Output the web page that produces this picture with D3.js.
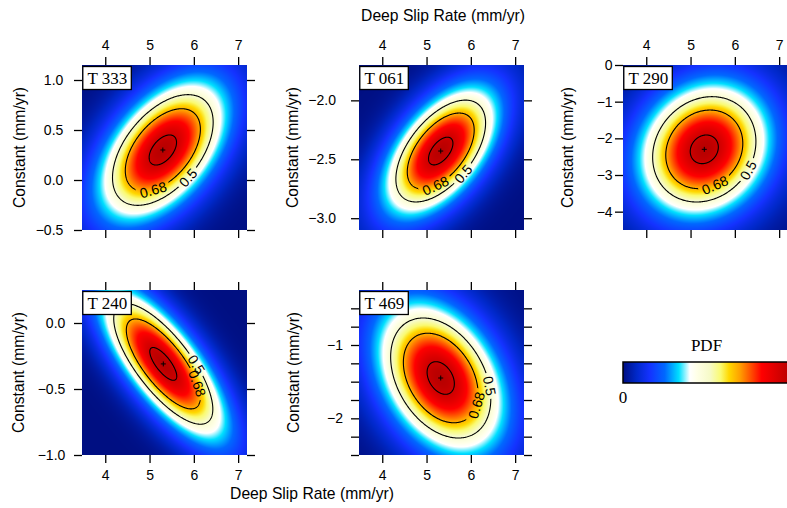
<!DOCTYPE html>
<html><head><meta charset="utf-8">
<script src="https://cdn.jsdelivr.net/npm/d3@7"></script>
<style>body{margin:0;background:#fff}svg{display:block}</style>
</head><body><svg id="c" width="787" height="508"></svg>
<script>
// ---------- data ----------
const panelNames = ["T 333", "T 061", "T 290", "T 240", "T 469"];
const meanX  = [5.30, 5.32, 5.31, 5.31, 5.32];
const meanY  = [0.30, -2.43, -2.30, -0.31, -1.45];
const sigmaX = [0.965, 0.86, 0.99, 0.95, 0.96];
const sigmaY = [0.47, 0.367, 1.22, 0.388, 0.695];
const rho    = [0.50, 0.55, 0.15, -0.75, -0.35];
const xDomain = [3.475, 7.2];
const yDomains = [[-0.5, 1.15], [-3.1, -1.7], [-4.5, 0], [-1.0, 0.25], [-2.5, -0.25]];
const xTicks = [4, 5, 6, 7];
const yTicks = [
  [-0.5, 0.0, 0.5, 1.0],
  [-3.0, -2.5, -2.0],
  [-4, -3, -2, -1, 0],
  [-1.0, -0.5, 0.0],
  [-2.5, -2.25, -2.0, -1.75, -1.5, -1.25, -1.0, -0.75, -0.5]
];
const yTickLabelled = [
  [-0.5, 0.0, 0.5, 1.0],
  [-3.0, -2.5, -2.0],
  [-4, -3, -2, -1, 0],
  [-1.0, -0.5, 0.0],
  [-2, -1]
];
const yTickFormats = [".1f", ".1f", "d", ".1f", "d"];
const contourLevels = [0.95, 0.68, 0.5];
const contourLabels = ["", "0.68", "0.5"];
// screen direction (deg) from centre where each contour label sits
const labelDirs = [[null, 104, 47.6], [null, 99, 45], [null, 73, 25.6], [null, 30, 1], [null, 37, 9]];
const xTitle = "Deep Slip Rate (mm/yr)";
const yTitle = "Constant (mm/yr)";
const cbarTitle = "PDF";
const cbarMinLabel = "0";

// ---------- layout / style ----------
const W = 787, H = 508, S = 165;
const panelLeft = [82, 359, 623, 82, 359];
const panelTop  = [65, 65, 65, 290, 290];
const labelGap  = [10.7, 15, 2.4, 8.7, 8];
const yTitleX   = [24.5, 298, 573, 23.5, 299];
const sans = "'Liberation Sans', Arial, Helvetica, sans-serif";
const serif = "'Liberation Serif', 'Times New Roman', serif";
const cmapStops  = [0, 0.08, 0.16, 0.25, 0.335, 0.40, 0.44, 0.52, 0.585, 0.635, 0.70, 0.765, 0.83, 1.0];
const cmapColors = ["#000f82", "#0028c8", "#1432ff", "#0068ff", "#00e0ff", "#ffffff", "#ffffe8",
                    "#f6fac8", "#fafa70", "#ffd800", "#ffa000", "#ff5000", "#ff0000", "#b80000"];
const cmap = d3.scaleLinear().domain(cmapStops).range(cmapColors).interpolate(d3.interpolateRgb).clamp(true);

const svg = d3.select("#c");
const defs = svg.append("defs");

function density(i, x, y) {
  const dx = (x - meanX[i]) / sigmaX[i], dy = (y - meanY[i]) / sigmaY[i], r = rho[i];
  const q = (dx * dx - 2 * r * dx * dy + dy * dy) / (1 - r * r);
  return Math.exp(-q / 2);
}

panelNames.forEach((name, i) => {
  const L = panelLeft[i], T = panelTop[i];
  const xs = d3.scaleLinear().domain(xDomain).range([0, S]);
  const ys = d3.scaleLinear().domain(yDomains[i]).range([S, 0]);
  const g = svg.append("g").attr("transform", `translate(${L},${T})`);

  // heat map
  const cv = document.createElement("canvas");
  cv.width = S; cv.height = S;
  const ctx = cv.getContext("2d");
  const img = ctx.createImageData(S, S);
  for (let py = 0; py < S; py++) {
    for (let px = 0; px < S; px++) {
      const f = density(i, xs.invert(px + 0.5), ys.invert(py + 0.5));
      const c = d3.rgb(cmap(f));
      const k = (py * S + px) * 4;
      img.data[k] = c.r; img.data[k + 1] = c.g; img.data[k + 2] = c.b; img.data[k + 3] = 255;
    }
  }
  ctx.putImageData(img, 0, 0);
  g.append("image").attr("width", S).attr("height", S)
    .attr("href", cv.toDataURL()).attr("preserveAspectRatio", "none");

  // contour ellipses
  const sx = sigmaX[i], sy = sigmaY[i], r = rho[i];
  const ts = d3.range(0, 361, 1).map(d => d * Math.PI / 180);
  const ellipse = lev => {
    const rr = Math.sqrt(-2 * Math.log(lev));
    return ts.map(t => [xs(meanX[i] + rr * sx * Math.cos(t)),
                        ys(meanY[i] + rr * (r * sy * Math.cos(t) + sy * Math.sqrt(1 - r * r) * Math.sin(t)))]);
  };
  const cx = xs(meanX[i]), cy = ys(meanY[i]);
  const maskId = "m" + i;
  const mask = defs.append("mask").attr("id", maskId).attr("maskUnits", "userSpaceOnUse")
    .attr("x", -10).attr("y", -10).attr("width", S + 20).attr("height", S + 20);
  mask.append("rect").attr("x", -10).attr("y", -10).attr("width", S + 20).attr("height", S + 20).attr("fill", "#fff");
  const lg = g.append("g");
  const cg = g.append("g").attr("mask", `url(#${maskId})`);
  contourLevels.forEach((lev, j) => {
    const pts = ellipse(lev);
    cg.append("path").attr("d", d3.line().curve(d3.curveLinearClosed)(pts.slice(0, 360)))
      .attr("fill", "none").attr("stroke", "#000").attr("stroke-width", 1.1);
    if (contourLabels[j] && labelDirs[i][j] != null) {
      const dir = labelDirs[i][j];
      let best = 0, bd = 1e9;
      pts.slice(0, 360).forEach((p, k) => {
        let a = Math.atan2(p[1] - cy, p[0] - cx) * 180 / Math.PI;
        let d = Math.abs(((a - dir) % 360 + 540) % 360 - 180);
        if (d < bd) { bd = d; best = k; }
      });
      const p = pts[best], pa = pts[(best + 359) % 360], pb = pts[(best + 1) % 360];
      let ang = Math.atan2(pb[1] - pa[1], pb[0] - pa[0]) * 180 / Math.PI;
      while (ang > 90) ang -= 180;
      while (ang <= -90) ang += 180;
      const tw = contourLabels[j].length * 7.4;
      mask.append("rect").attr("x", -tw / 2 - 2).attr("y", -6).attr("width", tw + 4).attr("height", 12)
        .attr("fill", "#000").attr("transform", `translate(${p[0]},${p[1]}) rotate(${ang})`);
      lg.append("text").attr("transform", `translate(${p[0]},${p[1]}) rotate(${ang})`)
        .attr("text-anchor", "middle").attr("dy", "0.36em")
        .attr("font-family", sans).attr("font-size", 14).attr("fill", "#000")
        .text(contourLabels[j]);
    }
  });
  g.node().appendChild(lg.node());

  // centre marker
  g.append("path").attr("d", `M${cx - 2.5},${cy}H${cx + 2.5}M${cx},${cy - 2.5}V${cy + 2.5}`)
    .attr("stroke", "#000").attr("stroke-width", 1);

  // panel label
  const lab = g.append("g").attr("transform", "translate(0.8,1.5)");
  lab.append("rect").attr("width", 48.5).attr("height", 23).attr("fill", "#fff").attr("stroke", "#000").attr("stroke-width", 1.3);
  lab.append("text").attr("x", 24.5).attr("y", 17.5).attr("text-anchor", "middle")
    .attr("font-family", serif).attr("font-size", 17).text(name);

  // axes
  const top = i < 3;
  const fmt = d3.format(yTickFormats[i]);
  const styleAxis = sel => {
    sel.select(".domain").remove();
    sel.selectAll(".tick line").attr("stroke", "#000").attr("stroke-width", 1.3);
    sel.selectAll("text").attr("font-family", sans).attr("font-size", 14).attr("fill", "#000");
    sel.attr("font-family", null).attr("font-size", null);
  };
  g.append("g").call(d3.axisTop(xs).tickValues(xTicks).tickSize(8).tickPadding(7)
      .tickFormat(top ? d3.format("d") : () => "")).call(styleAxis);
  g.append("g").attr("transform", `translate(0,${S})`)
    .call(d3.axisBottom(xs).tickValues(xTicks).tickSize(8).tickPadding(7)
      .tickFormat(top ? () => "" : d3.format("d"))).call(styleAxis);
  g.append("g").call(d3.axisLeft(ys).tickValues(yTicks[i]).tickSize(8).tickPadding(labelGap[i])
      .tickFormat(d => yTickLabelled[i].some(v => Math.abs(v - d) < 1e-9) ? fmt(d) : "")).call(styleAxis);
  g.append("g").attr("transform", `translate(${S},0)`)
    .call(d3.axisRight(ys).tickValues(yTicks[i]).tickSize(8).tickFormat(() => "")).call(styleAxis);

  // y title
  svg.append("text").attr("transform", `translate(${yTitleX[i]},${T + S / 2}) rotate(-90)`)
    .attr("text-anchor", "middle").attr("font-family", sans).attr("font-size", 15.7).text(yTitle);
});

// x titles
svg.append("text").attr("x", 443).attr("y", 20.5).attr("text-anchor", "middle")
  .attr("font-family", sans).attr("font-size", 15.7).text(xTitle);
svg.append("text").attr("x", 312).attr("y", 498.5).attr("text-anchor", "middle")
  .attr("font-family", sans).attr("font-size", 15.7).text(xTitle);

// colour bar
const cbX = 623, cbY = 362, cbW = 167, cbH = 21;
const grad = defs.append("linearGradient").attr("id", "cbg");
cmapStops.forEach((s, k) => grad.append("stop").attr("offset", s).attr("stop-color", cmapColors[k]));
svg.append("rect").attr("x", cbX).attr("y", cbY).attr("width", cbW).attr("height", cbH)
  .attr("fill", "url(#cbg)").attr("stroke", "#000").attr("stroke-width", 1.5);
svg.append("text").attr("x", cbX + cbW / 2).attr("y", 351).attr("text-anchor", "middle")
  .attr("font-family", serif).attr("font-size", 17).text(cbarTitle);
svg.append("text").attr("x", cbX).attr("y", 403).attr("text-anchor", "middle")
  .attr("font-family", serif).attr("font-size", 17).text(cbarMinLabel);
</script></body></html>
